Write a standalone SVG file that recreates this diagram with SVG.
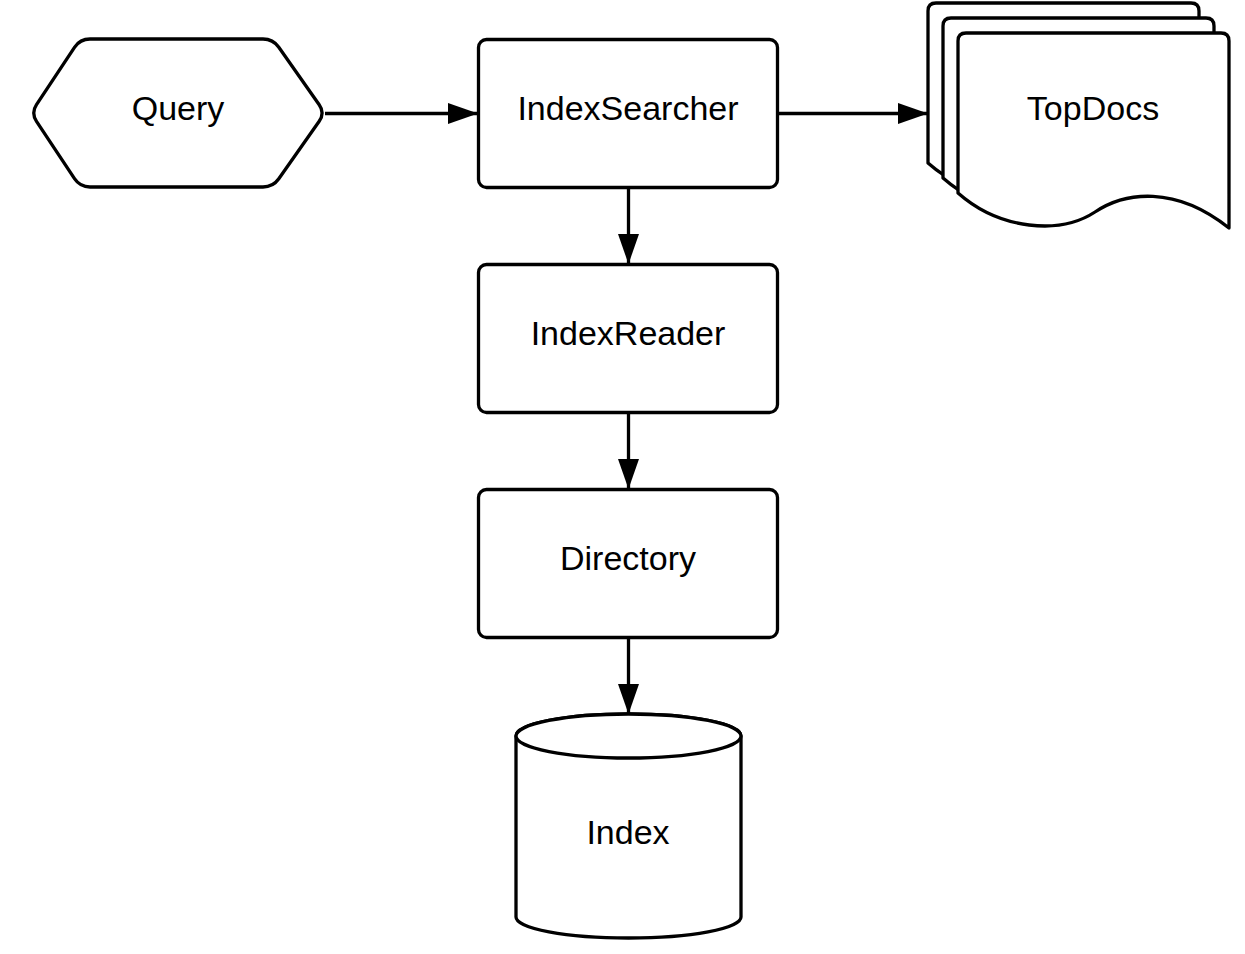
<svg xmlns="http://www.w3.org/2000/svg" width="1245" height="954" viewBox="0 0 1245 954">
<style>
.shape{fill:#fff;stroke:#000;stroke-width:3.3;stroke-linejoin:round}
.lbl{font-family:"Liberation Sans",Arial,sans-serif;font-size:34px;fill:#000;text-anchor:middle}
.conn{stroke:#000;stroke-width:3.3;fill:none}
</style>
<defs>
<marker id="arr" markerUnits="userSpaceOnUse" markerWidth="31" markerHeight="22" refX="30" refY="10.5" orient="auto">
<path d="M0,0 L30,10.5 L0,21 Z" fill="#000"/>
</marker>
</defs>
<rect width="1245" height="954" fill="#fff"/>
<g id="query">
<path class="shape" d="M36.5,121.3 Q31,113 36.5,104.7 L74.5,47.3 Q80,39 90,39 L263,39 Q273,39 278.8,47.2 L319.2,104.8 Q325,113 319.2,121.2 L278.8,178.8 Q273,187 263,187 L90,187 Q80,187 74.5,178.7 Z"/>
<text class="lbl" x="178" y="120">Query</text>
</g>
<g id="indexsearcher">
<rect class="shape" x="478.5" y="39.5" width="299" height="148" rx="8"/>
<text class="lbl" x="628" y="120">IndexSearcher</text>
</g>
<g id="indexreader">
<rect class="shape" x="478.5" y="264.5" width="299" height="148" rx="8"/>
<text class="lbl" x="628" y="345">IndexReader</text>
</g>
<g id="directory">
<rect class="shape" x="478.5" y="489.5" width="299" height="148" rx="8"/>
<text class="lbl" x="628" y="570">Directory</text>
</g>
<g id="index">
<path class="shape" d="M516,736 L516,917 A112.5,21 0 0 0 741,917 L741,736 A112.5,22 0 0 0 516,736 Z"/>
<ellipse class="shape" cx="628.5" cy="736" rx="112.5" ry="22"/>
<text class="lbl" x="628" y="844">Index</text>
</g>
<g id="topdocs">
<path class="shape" transform="translate(-30,-30)" d="M958,193 L958,41 Q958,33 966,33 L1221,33 Q1229,33 1229,41 L1229,228 C1175,185 1125,192 1095,212 C1060,235 1000,230 958,193 Z"/>
<path class="shape" transform="translate(-15,-15)" d="M958,193 L958,41 Q958,33 966,33 L1221,33 Q1229,33 1229,41 L1229,228 C1175,185 1125,192 1095,212 C1060,235 1000,230 958,193 Z"/>
<path class="shape" d="M958,193 L958,41 Q958,33 966,33 L1221,33 Q1229,33 1229,41 L1229,228 C1175,185 1125,192 1095,212 C1060,235 1000,230 958,193 Z"/>
<text class="lbl" x="1093" y="120">TopDocs</text>
</g>
<g id="connectors">
<line class="conn" x1="325" y1="113.5" x2="478" y2="113.5" marker-end="url(#arr)"/>
<line class="conn" x1="778" y1="113.5" x2="928" y2="113.5" marker-end="url(#arr)"/>
<line class="conn" x1="628.5" y1="188" x2="628.5" y2="264" marker-end="url(#arr)"/>
<line class="conn" x1="628.5" y1="413" x2="628.5" y2="489" marker-end="url(#arr)"/>
<line class="conn" x1="628.5" y1="638" x2="628.5" y2="714" marker-end="url(#arr)"/>
</g>
</svg>
